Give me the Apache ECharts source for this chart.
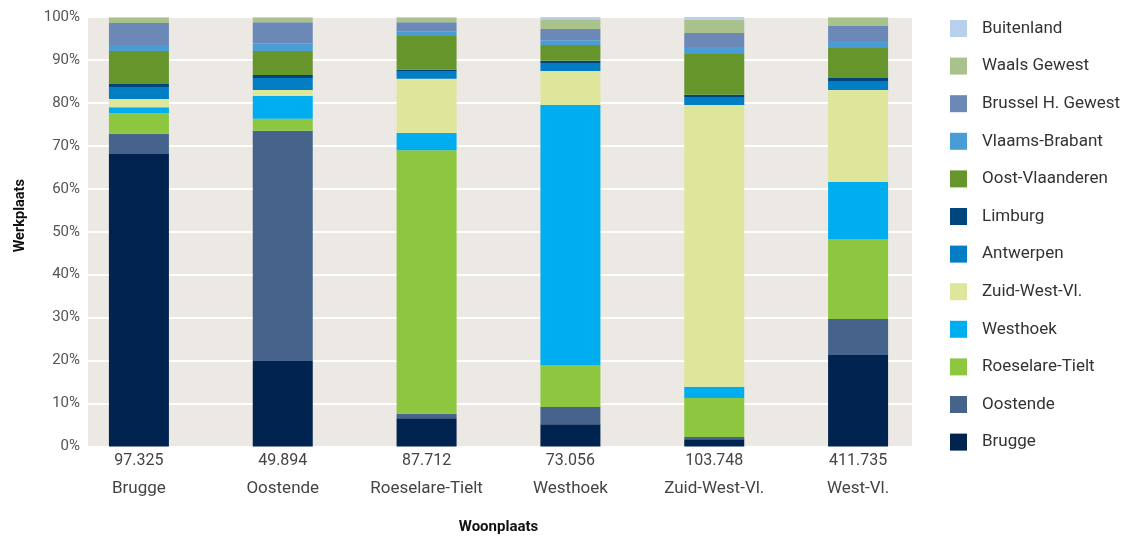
<!DOCTYPE html>
<html>
<head>
<meta charset="utf-8">
<script src="https://cdn.jsdelivr.net/npm/echarts@6/dist/echarts.min.js"></script>
<style>html,body{margin:0;padding:0;background:#fff}#c{width:1125px;height:537px}</style>
</head>
<body>
<div id="c"></div>
<script>
var categories = ['Brugge', 'Oostende', 'Roeselare-Tielt', 'Westhoek', 'Zuid-West-Vl.', 'West-Vl.'];
var totals = ['97.325', '49.894', '87.712', '73.056', '103.748', '411.735'];
var seriesNames = ['Brugge', 'Oostende', 'Roeselare-Tielt', 'Westhoek', 'Zuid-West-Vl.', 'Antwerpen', 'Limburg', 'Oost-Vlaanderen', 'Vlaams-Brabant', 'Brussel H. Gewest', 'Waals Gewest', 'Buitenland'];
var brugge       = [68.1, 19.9, 6.6, 5.2, 1.7, 21.3];
var oostende     = [4.7, 53.6, 1.0, 4.0, 0.5, 8.4];
var roeselare    = [4.8, 2.8, 61.4, 9.8, 9.1, 18.6];
var westhoek     = [1.4, 5.3, 4.0, 60.5, 2.6, 13.3];
var zuidwest     = [1.9, 1.4, 12.6, 7.9, 65.6, 21.4];
var antwerpen    = [2.8, 2.8, 1.8, 1.9, 1.9, 2.1];
var limburg      = [0.7, 0.7, 0.3, 0.5, 0.5, 0.7];
var oostvl       = [7.7, 5.6, 7.9, 3.7, 9.5, 7.0];
var vlaamsbrab   = [1.4, 1.8, 1.1, 1.1, 1.6, 1.6];
var brussel      = [5.1, 4.9, 2.1, 2.6, 3.3, 3.5];
var waals        = [1.2, 1.0, 1.1, 2.3, 3.0, 1.9];
var buitenland   = [0.2, 0.2, 0.1, 0.5, 0.7, 0.2];
var yTicks = [0, 10, 20, 30, 40, 50, 60, 70, 80, 90, 100];

var values = [brugge, oostende, roeselare, westhoek, zuidwest, antwerpen, limburg, oostvl, vlaamsbrab, brussel, waals, buitenland];
var colors = ['#00234f', '#46648b', '#8dc63f', '#00aeef', '#dde69b', '#007dc3', '#00457c', '#66952c', '#4a9cd5', '#6b88b6', '#a9c18a', '#b8d0ec'];
var FONT = 'Roboto';

var series = seriesNames.map(function (n, i) {
  return {
    name: n, type: 'bar', stack: 'tot', xAxisIndex: 1, yAxisIndex: 1,
    barWidth: 60, data: values[i], itemStyle: { color: colors[i] }
  };
});

var chart = echarts.init(document.getElementById('c'), null, { renderer: 'canvas' });
chart.setOption({
  animation: false,
  textStyle: { fontFamily: FONT },
  grid: [
    { left: 88, right: 213, top: 17, bottom: 90.5, show: true, backgroundColor: '#ece9e4', borderWidth: 0, outerBoundsMode: 'none', containLabel: false },
    { left: 67, right: 195, top: 17, bottom: 90.5, outerBoundsMode: 'none', containLabel: false }
  ],
  legend: {
    orient: 'vertical', left: 945, top: 15, itemWidth: 17, itemHeight: 17, itemGap: 20.6,
    icon: 'rect', data: seriesNames.slice().reverse(),
    textStyle: { fontSize: 17, lineHeight: 17, color: '#333', fontFamily: FONT, padding: [0, 0, 0, 10] }
  },
  xAxis: [
    { gridIndex: 0, type: 'value', show: false, min: 0, max: 1 },
    {
      gridIndex: 1, type: 'category', data: categories,
      axisLine: { show: false }, axisTick: { show: false },
      name: 'Woonplaats', nameLocation: 'middle', nameGap: 73.5,
      nameTextStyle: { fontSize: 15, fontWeight: 'bold', color: '#111', fontFamily: FONT },
      axisLabel: {
        margin: 4.5, color: '#444', fontFamily: FONT,
        formatter: function (v, i) { return '{t|' + totals[i] + '}\n{c|' + v + '}'; },
        rich: {
          t: { fontSize: 16, lineHeight: 20, color: '#444', fontFamily: FONT },
          c: { fontSize: 17, lineHeight: 36, color: '#444', fontFamily: FONT }
        }
      }
    }
  ],
  yAxis: [
    {
      gridIndex: 0, type: 'value', min: 0, max: 100, interval: 10,
      axisLine: { show: false }, axisTick: { show: false },
      splitLine: { show: true, lineStyle: { color: '#ffffff', width: 2 } },
      axisLabel: { formatter: '{value}%', fontSize: 15, color: '#555', margin: 8, fontFamily: FONT },
      name: 'Werkplaats', nameLocation: 'middle', nameGap: 60, nameRotate: 90,
      nameTextStyle: { fontSize: 14.5, fontWeight: 'bold', color: '#111', fontFamily: FONT, padding: [0, 0, 0, 32] }
    },
    { gridIndex: 1, type: 'value', min: 0, max: 100, show: false }
  ],
  series: series
});
</script>
</body>
</html>
